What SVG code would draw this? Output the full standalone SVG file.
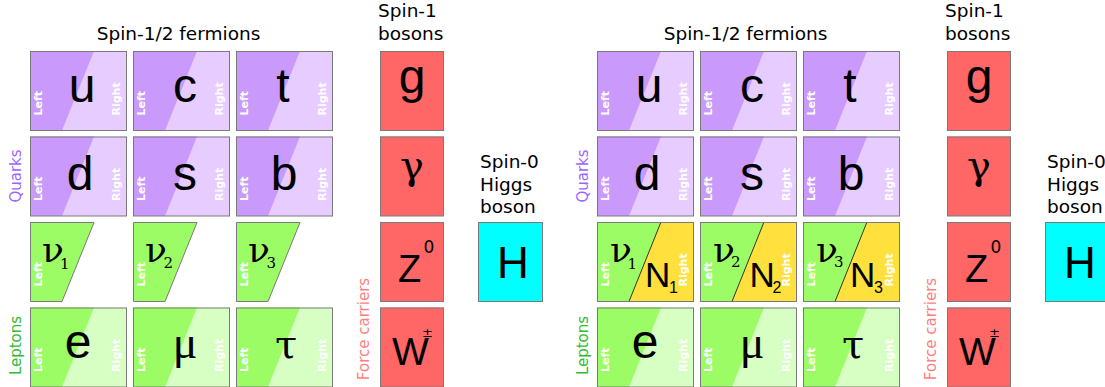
<svg xmlns="http://www.w3.org/2000/svg" xmlns:xlink="http://www.w3.org/1999/xlink" width="1105" height="387" viewBox="0 0 1105 387">
<style>
.box{fill:none;stroke:#7a7a7a;stroke-width:1}
.qL{fill:#c999fb}.qR{fill:#e6ccff}
.lL{fill:#9cfc66}.lR{fill:#d7ffc3}
.nY{fill:#ffe03c}
.bos{fill:#ff6666}.hig{fill:#00ffff}
.lr{font-family:"DejaVu Sans",sans-serif;font-size:11px;font-weight:600;fill:#ffffff}
.big{font-family:"Liberation Sans",Arial,sans-serif;font-size:48px;fill:#000;text-anchor:middle}
.gr{font-family:"Liberation Serif","DejaVu Serif",serif;font-size:46px;fill:#000;text-anchor:middle}
.gm{font-family:"DejaVu Serif",serif;font-size:40px;fill:#000;text-anchor:middle}
.nu{font-family:"DejaVu Serif",serif;font-size:36px;fill:#000}
.sub{font-family:"DejaVu Serif",serif;font-size:15px;fill:#000}
.nn{font-family:"Liberation Sans",Arial,sans-serif;font-size:35px;fill:#000}
.nsub{font-family:"Liberation Sans",Arial,sans-serif;font-size:16px;fill:#000}
.hd{font-family:"DejaVu Sans",sans-serif;font-size:18.5px;fill:#000}
.sup{font-family:"DejaVu Sans",sans-serif;font-size:17px;fill:#000}
.side{font-family:"DejaVu Sans",sans-serif;font-size:15px;text-anchor:middle}
</style>
<defs>
<g id="qbg"><rect class="qR" width="97" height="79.5"/><polygon class="qL" points="0,0 64,0 32,79.5 0,79.5"/><rect class="box" x="0.5" y="0.5" width="96" height="79"/><text class="lr" transform="translate(12,64.5) rotate(-90)">Left</text><text class="lr" transform="translate(90,64.5) rotate(-90)">Right</text></g>
<g id="lbg"><rect class="lR" width="97" height="79.5"/><polygon class="lL" points="0,0 64,0 32,79.5 0,79.5"/><rect class="box" x="0.5" y="0.5" width="96" height="79"/><text class="lr" transform="translate(12,64.5) rotate(-90)">Left</text><text class="lr" transform="translate(90,64.5) rotate(-90)">Right</text></g>
<g id="nbg"><polygon class="lL" points="0.5,0.5 64,0.5 32,79.5 0.5,79.5" stroke="#7a7a7a" stroke-width="1"/><text class="lr" transform="translate(12,64.5) rotate(-90)">Left</text></g>
<g id="nsbg"><rect class="nY" width="97" height="79.5"/><polygon class="lL" points="0,0 64,0 32,79.5 0,79.5"/><line x1="64" y1="0" x2="32" y2="79.5" stroke="#333" stroke-width="1"/><rect class="box" x="0.5" y="0.5" width="96" height="79"/><text class="lr" transform="translate(12,64.5) rotate(-90)">Left</text><text class="lr" transform="translate(90,64.5) rotate(-90)">Right</text></g>
<g id="bbg"><rect class="bos" width="64" height="79.5"/><rect class="box" x="0.5" y="0.5" width="63" height="79"/></g>
</defs>

<g id="labels">
<text class="hd" x="178.5" y="40" text-anchor="middle">Spin-1/2 fermions</text>
<text class="hd" x="378" y="17">Spin-1</text>
<text class="hd" x="378" y="40">bosons</text>
<text class="hd" x="480" y="168">Spin-0</text>
<text class="hd" x="480" y="190.5">Higgs</text>
<text class="hd" x="480" y="213">boson</text>
<text class="side" fill="#9a66ff" transform="translate(21,176) rotate(-90)">Quarks</text>
<text class="side" fill="#33bb33" transform="translate(21,345.5) rotate(-90)">Leptons</text>
<text class="side" fill="#ff7f7f" transform="translate(369,329) rotate(-90)">Force carriers</text>

<text class="hd" x="745.5" y="40" text-anchor="middle">Spin-1/2 fermions</text>
<text class="hd" x="945" y="17">Spin-1</text>
<text class="hd" x="945" y="40">bosons</text>
<text class="hd" x="1047" y="168">Spin-0</text>
<text class="hd" x="1047" y="190.5">Higgs</text>
<text class="hd" x="1047" y="213">boson</text>
<text class="side" fill="#9a66ff" transform="translate(588,176) rotate(-90)">Quarks</text>
<text class="side" fill="#33bb33" transform="translate(588,345.5) rotate(-90)">Leptons</text>
<text class="side" fill="#ff7f7f" transform="translate(936,329) rotate(-90)">Force carriers</text>
</g>

<!-- LEFT PANEL -->
<g id="u" transform="translate(30,51)"><use xlink:href="#qbg"/><text class="big" x="52" y="51">u</text></g>
<g id="c" transform="translate(133,51)"><use xlink:href="#qbg"/><text class="big" x="52" y="51">c</text></g>
<g id="t" transform="translate(236,51)"><use xlink:href="#qbg"/><text class="big" x="47" y="51">t</text></g>
<g id="d" transform="translate(30,136.5)"><use xlink:href="#qbg"/><text class="big" x="50" y="53.5">d</text></g>
<g id="s" transform="translate(133,136.5)"><use xlink:href="#qbg"/><text class="big" x="52" y="53.5">s</text></g>
<g id="b" transform="translate(236,136.5)"><use xlink:href="#qbg"/><text class="big" x="48" y="53.5">b</text></g>
<g id="nu1" transform="translate(30,222)"><use xlink:href="#nbg"/><text class="nu" x="12" y="40">ν</text><text class="sub" x="30" y="47">1</text></g>
<g id="nu2" transform="translate(133,222)"><use xlink:href="#nbg"/><text class="nu" x="12" y="40">ν</text><text class="sub" x="30.5" y="46">2</text></g>
<g id="nu3" transform="translate(236,222)"><use xlink:href="#nbg"/><text class="nu" x="12" y="40">ν</text><text class="sub" x="30.5" y="46">3</text></g>
<g id="e" transform="translate(30,307.5)"><use xlink:href="#lbg"/><text class="big" x="48" y="50">e</text></g>
<g id="mu" transform="translate(133,307.5)"><use xlink:href="#lbg"/><text class="gr" x="52" y="50.5">μ</text></g>
<g id="tau" transform="translate(236,307.5)"><use xlink:href="#lbg"/><text class="gm" x="50" y="50.5">τ</text></g>
<g id="g" transform="translate(380,51)"><use xlink:href="#bbg"/><text class="big" x="32" y="42">g</text></g>
<g id="gamma" transform="translate(380,136.5)"><use xlink:href="#bbg"/><text class="gm" x="32" y="42.5">γ</text></g>
<g id="Z" transform="translate(380,222)"><use xlink:href="#bbg"/><text class="big" style="font-size:38px;text-anchor:start" x="18" y="59.7">Z</text><text class="sup" x="43.5" y="30.5">0</text></g>
<g id="W" transform="translate(380,307.5)"><use xlink:href="#bbg"/><text class="big" style="font-size:39px;text-anchor:start" x="12" y="57.5">W</text><text class="sup" style="font-size:13px;text-anchor:middle" x="47.5" y="29.5">±</text></g>
<g id="H" transform="translate(478,222)"><rect class="hig" width="65" height="79.5"/><rect class="box" x="0.5" y="0.5" width="64" height="79"/><text class="big" style="font-size:44px" x="35" y="55.7">H</text></g>

<!-- RIGHT PANEL -->
<g id="u2" transform="translate(597,51)"><use xlink:href="#qbg"/><text class="big" x="52" y="51">u</text></g>
<g id="c2" transform="translate(700,51)"><use xlink:href="#qbg"/><text class="big" x="52" y="51">c</text></g>
<g id="t2" transform="translate(803,51)"><use xlink:href="#qbg"/><text class="big" x="47" y="51">t</text></g>
<g id="d2" transform="translate(597,136.5)"><use xlink:href="#qbg"/><text class="big" x="50" y="53.5">d</text></g>
<g id="s2" transform="translate(700,136.5)"><use xlink:href="#qbg"/><text class="big" x="52" y="53.5">s</text></g>
<g id="b2" transform="translate(803,136.5)"><use xlink:href="#qbg"/><text class="big" x="48" y="53.5">b</text></g>
<g id="nuN1" transform="translate(597,222)"><use xlink:href="#nsbg"/><text class="nu" x="13" y="40">ν</text><text class="sub" x="30.5" y="47">1</text><text class="nn" x="48" y="64.7">N</text><text class="nsub" x="72" y="71">1</text></g>
<g id="nuN2" transform="translate(700,222)"><use xlink:href="#nsbg"/><text class="nu" x="13" y="40">ν</text><text class="sub" x="31" y="45">2</text><text class="nn" x="49.5" y="64.7">N</text><text class="nsub" x="72.5" y="71">2</text></g>
<g id="nuN3" transform="translate(803,222)"><use xlink:href="#nsbg"/><text class="nu" x="13" y="40">ν</text><text class="sub" x="31" y="45">3</text><text class="nn" x="47" y="64.7">N</text><text class="nsub" x="71" y="71">3</text></g>
<g id="e2" transform="translate(597,307.5)"><use xlink:href="#lbg"/><text class="big" x="48" y="50">e</text></g>
<g id="mu2" transform="translate(700,307.5)"><use xlink:href="#lbg"/><text class="gr" x="52" y="50.5">μ</text></g>
<g id="tau2" transform="translate(803,307.5)"><use xlink:href="#lbg"/><text class="gm" x="50" y="50.5">τ</text></g>
<g id="g2" transform="translate(947,51)"><use xlink:href="#bbg"/><text class="big" x="32" y="42">g</text></g>
<g id="gamma2" transform="translate(947,136.5)"><use xlink:href="#bbg"/><text class="gm" x="32" y="42.5">γ</text></g>
<g id="Z2" transform="translate(947,222)"><use xlink:href="#bbg"/><text class="big" style="font-size:38px;text-anchor:start" x="18" y="59.7">Z</text><text class="sup" x="43.5" y="30.5">0</text></g>
<g id="W2" transform="translate(947,307.5)"><use xlink:href="#bbg"/><text class="big" style="font-size:39px;text-anchor:start" x="12" y="57.5">W</text><text class="sup" style="font-size:13px;text-anchor:middle" x="47.5" y="29.5">±</text></g>
<g id="H2" transform="translate(1045,222)"><rect class="hig" width="65" height="79.5"/><rect class="box" x="0.5" y="0.5" width="64" height="79"/><text class="big" style="font-size:44px" x="35" y="55.7">H</text></g>
<g id="connectors"/>
</svg>
